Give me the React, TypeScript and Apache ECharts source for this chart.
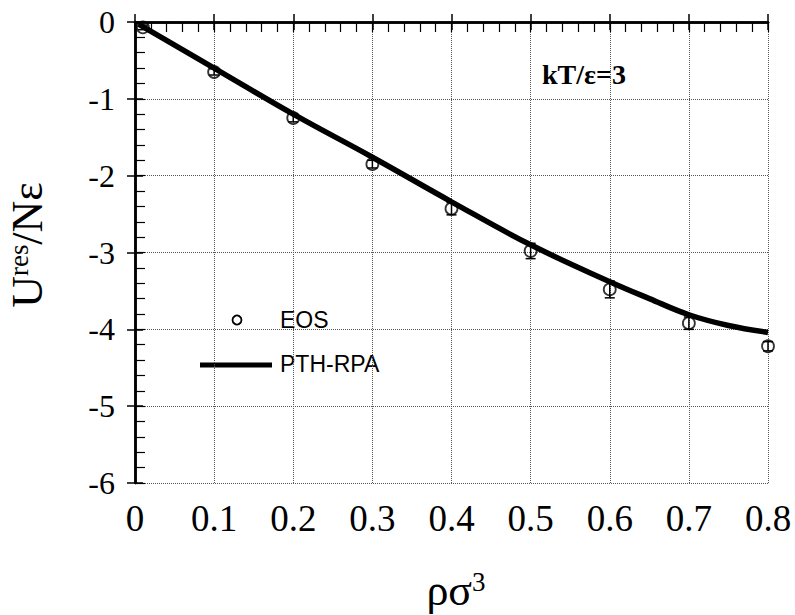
import React, { useEffect, useRef } from "react";
import * as echarts from "echarts";

// EOS simulation points (open circles with error bars)
const eosX = [0.01, 0.1, 0.2, 0.3, 0.4, 0.5, 0.6, 0.7, 0.8];
const eosY = [-0.07, -0.65, -1.25, -1.85, -2.43, -2.98, -3.48, -3.92, -4.22];
const eosErr = [0.03, 0.04, 0.05, 0.05, 0.08, 0.1, 0.11, 0.08, 0.06];

// PTH-RPA theory curve
const rpaX = [0.005, 0.1, 0.2, 0.3, 0.4, 0.5, 0.6, 0.65, 0.7, 0.75, 0.8];
const rpaY = [-0.03, -0.6, -1.2, -1.76, -2.34, -2.9, -3.38, -3.6, -3.81, -3.95, -4.04];

const xMin = 0;
const xMax = 0.8;
const xStep = 0.1;
const yMin = -6;
const yMax = 0;
const yStep = 1;

const legendNames = ["EOS", "PTH-RPA"];
const annotation = "kT/ε=3";

const SERIF = "'Liberation Serif', 'Times New Roman', serif";
const SANS = "'Liberation Sans', Arial, sans-serif";

export default function App() {
  const ref = useRef<HTMLDivElement>(null);

  useEffect(() => {
    if (!ref.current) return;
    const chart = echarts.init(ref.current, undefined, { renderer: "svg" });

    const gridLine = { show: true, lineStyle: { color: "#555", width: 1, type: [1, 1] as any } };
    const axisLine = { show: true, lineStyle: { color: "#000", width: 2.5 } };
    const tick = { show: true, inside: true, length: 8, lineStyle: { color: "#000", width: 1.5 } };
    const MINOR_LEN = 5;

    // frame axis (top / right) – line + major ticks only
    const mirrorAxis = (extra: any) => ({
      ...extra,
      axisLine,
      axisTick: tick,
      minorTick: { show: false },
      axisLabel: { show: false },
      splitLine: { show: false },
    });

    // helper axis drawn just inside the frame; its outward ticks become inward ticks
    const minorAxis = (extra: any) => ({
      ...extra,
      offset: -MINOR_LEN,
      axisLine: { show: false },
      axisTick: { show: true, inside: false, length: MINOR_LEN, lineStyle: { color: "#000", width: 1.2 } },
      minorTick: { show: true, splitNumber: 5, length: MINOR_LEN, lineStyle: { color: "#000", width: 1.2 } },
      axisLabel: { show: false },
      splitLine: { show: false },
      silent: true,
    });

    const xBase = { type: "value", min: xMin, max: xMax, interval: xStep };
    const yBase = { type: "value", min: yMin, max: yMax, interval: yStep };

    const option: any = {
      animation: false,
      backgroundColor: "#fff",
      grid: { left: 135, top: 22, width: 633, height: 461, containLabel: false },
      xAxis: [
        {
          ...xBase,
          position: "bottom",
          axisLine,
          axisTick: tick,
          minorTick: { show: false },
          splitLine: gridLine,
          axisLabel: {
            color: "#000",
            fontFamily: SERIF,
            fontSize: 37,
            margin: 17,
            formatter: (v: number) => (v === 0 ? "0" : v.toFixed(1)),
          },
        },
        mirrorAxis({ ...xBase, position: "top" }),
        minorAxis({ ...xBase, position: "bottom" }),
        minorAxis({ ...xBase, position: "top" }),
      ],
      yAxis: [
        {
          ...yBase,
          position: "left",
          axisLine,
          axisTick: tick,
          minorTick: { show: false },
          splitLine: gridLine,
          axisLabel: {
            color: "#000",
            fontFamily: SERIF,
            fontSize: 32,
            margin: 20,
            formatter: (v: number) => String(v),
          },
        },
        mirrorAxis({ ...yBase, position: "right" }),
        minorAxis({ ...yBase, position: "left" }),
        minorAxis({ ...yBase, position: "right" }),
      ],
      series: [
        {
          name: legendNames[1],
          type: "line",
          xAxisIndex: 0,
          yAxisIndex: 0,
          data: rpaX.map((x, i) => [x, rpaY[i]]),
          smooth: 0.4,
          symbol: "none",
          lineStyle: { color: "#000", width: 5.5 },
          z: 2,
        },
        {
          name: "errors",
          type: "custom",
          xAxisIndex: 0,
          yAxisIndex: 0,
          data: eosX.map((x, i) => [x, eosY[i] + eosErr[i], eosY[i] - eosErr[i]]),
          renderItem: (params: any, api: any) => {
            const x = api.value(0);
            const hi = api.coord([x, api.value(1)]);
            const lo = api.coord([x, api.value(2)]);
            const w = 5;
            const st = { stroke: "#000", lineWidth: 1.5 };
            return {
              type: "group",
              children: [
                { type: "line", shape: { x1: hi[0], y1: hi[1], x2: lo[0], y2: lo[1] }, style: st },
                { type: "line", shape: { x1: hi[0] - w, y1: hi[1], x2: hi[0] + w, y2: hi[1] }, style: st },
                { type: "line", shape: { x1: lo[0] - w, y1: lo[1], x2: lo[0] + w, y2: lo[1] }, style: st },
              ],
            };
          },
          z: 3,
        },
        {
          name: legendNames[0],
          type: "scatter",
          xAxisIndex: 0,
          yAxisIndex: 0,
          data: eosX.map((x, i) => [x, eosY[i]]),
          symbol: "circle",
          symbolSize: 12,
          itemStyle: { color: "rgba(255,255,255,0)", borderColor: "#000", borderWidth: 1.8 },
          z: 4,
        },
      ],
      graphic: [
        // legend
        { type: "circle", shape: { cx: 237, cy: 320, r: 4.5 }, style: { fill: "#fff", stroke: "#000", lineWidth: 1.8 } },
        {
          type: "text",
          x: 280,
          y: 320,
          style: { text: legendNames[0], fontFamily: SANS, fontSize: 23, fill: "#000", verticalAlign: "middle", align: "left" },
        },
        { type: "line", shape: { x1: 200, y1: 365, x2: 272, y2: 365 }, style: { stroke: "#000", lineWidth: 5 } },
        {
          type: "text",
          x: 280,
          y: 364,
          style: { text: legendNames[1], fontFamily: SANS, fontSize: 23, fill: "#000", verticalAlign: "middle", align: "left" },
        },
        // annotation
        {
          type: "text",
          x: 542,
          y: 74,
          style: { text: annotation, fontFamily: SERIF, fontWeight: "bold", fontSize: 28, fill: "#000", verticalAlign: "middle", align: "left" },
        },
        // y axis title
        {
          type: "text",
          x: 27,
          y: 245,
          rotation: Math.PI / 2,
          style: {
            text: "{b|U}{s|res}{b|/Nε}",
            align: "center",
            verticalAlign: "middle",
            fill: "#000",
            rich: {
              b: { fontFamily: SERIF, fontSize: 44, fill: "#000", verticalAlign: "bottom" },
              s: { fontFamily: SERIF, fontSize: 27, fill: "#000", verticalAlign: "top" },
            },
          },
        },
        // x axis title
        {
          type: "text",
          x: 456,
          y: 590,
          style: {
            text: "{b|ρσ}{s|3}",
            align: "center",
            verticalAlign: "middle",
            fill: "#000",
            rich: {
              b: { fontFamily: SERIF, fontSize: 44, fill: "#000", verticalAlign: "bottom" },
              s: { fontFamily: SERIF, fontSize: 27, fill: "#000", verticalAlign: "top" },
            },
          },
        },
      ],
    };

    chart.setOption(option);
    return () => chart.dispose();
  }, []);

  return (
    <div
      ref={ref}
      style={{ position: "absolute", left: 0, top: 0, width: 795, height: 615, background: "#fff" }}
    />
  );
}
